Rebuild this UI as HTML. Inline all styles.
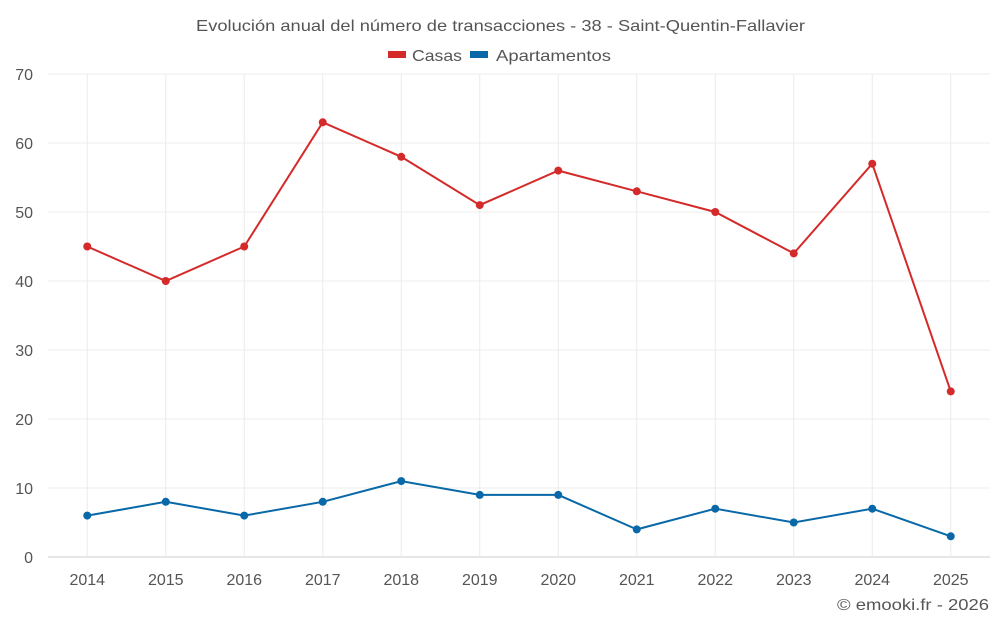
<!DOCTYPE html>
<html><head><meta charset="utf-8"><style>
body{margin:0;background:#fff;font-family:"Liberation Sans",Roboto,sans-serif}
svg text{font-family:"Liberation Sans",sans-serif}
</style></head><body>
<svg id="chart" width="1000" height="625">
<text x="196" y="31" textLength="609" lengthAdjust="spacingAndGlyphs" font-size="16" fill="#555">Evolución anual del número de transacciones - 38 - Saint-Quentin-Fallavier</text>
<g>
<g><rect x="388" y="51" width="18" height="7" fill="#d42a2a"/><text x="412" y="61" textLength="50" lengthAdjust="spacingAndGlyphs" font-size="16" fill="#555">Casas</text></g>
<g><rect x="470" y="51" width="18" height="7" fill="#0868a8"/><text x="496" y="61" textLength="115" lengthAdjust="spacingAndGlyphs" font-size="16" fill="#555">Apartamentos</text></g>
</g>
<g id="grid"></g><g id="axes"></g><g id="series"></g>
<text x="837" y="610" textLength="152" lengthAdjust="spacingAndGlyphs" font-size="16" fill="#555">© emooki.fr - 2026</text>
</svg>
<script>
const categories=["2014","2015","2016","2017","2018","2019","2020","2021","2022","2023","2024","2025"];
const casas=[45,40,45,63,58,51,56,53,50,44,57,24];
const apartamentos=[6,8,6,8,11,9,9,4,7,5,7,3];
const yTicks=[0,10,20,30,40,50,60,70];
const L=48,R=990,T=74,B=557,yMax=70;
const NS="http://www.w3.org/2000/svg";
const bw=(R-L)/categories.length;
const xs=i=>L+bw*(i+0.5);
const ys=v=>B-(v/yMax)*(B-T);
function mk(tag,attrs,parent){const e=document.createElementNS(NS,tag);for(const k in attrs)e.setAttribute(k,attrs[k]);parent.appendChild(e);return e;}
const grid=document.getElementById('grid'),axes=document.getElementById('axes'),ser=document.getElementById('series');
yTicks.forEach(t=>{
 const l=mk('line',{x1:L,x2:R,y1:ys(t),y2:ys(t),stroke:t===0?'#ccc':'#ececec','stroke-width':1},grid);
 
 
 const tx=mk('text',{x:33,y:ys(t)+6,'text-anchor':'end','font-size':16,fill:'#555'},axes);
 tx.textContent=t;
 
 
});
categories.forEach((c,i)=>{
 const l=mk('line',{x1:xs(i),x2:xs(i),y1:T,y2:B,stroke:'#ececec','stroke-width':1},grid);
 
 
 const tx=mk('text',{x:xs(i),y:585,'text-anchor':'middle','font-size':16,fill:'#555'},axes);
 tx.textContent=c;
 
 
});
function draw(data,color,name){
 const p=mk('polyline',{points:data.map((v,i)=>xs(i)+','+ys(v)).join(' '),fill:'none',stroke:color,'stroke-width':2},ser);
 
 
 data.forEach((v,i)=>{
  const c=mk('circle',{cx:xs(i),cy:ys(v),r:4,fill:color},ser);
  
  
 });
}
draw(casas,'#d42a2a','casas');
draw(apartamentos,'#0868a8','apartamentos');
</script>
</body></html>
